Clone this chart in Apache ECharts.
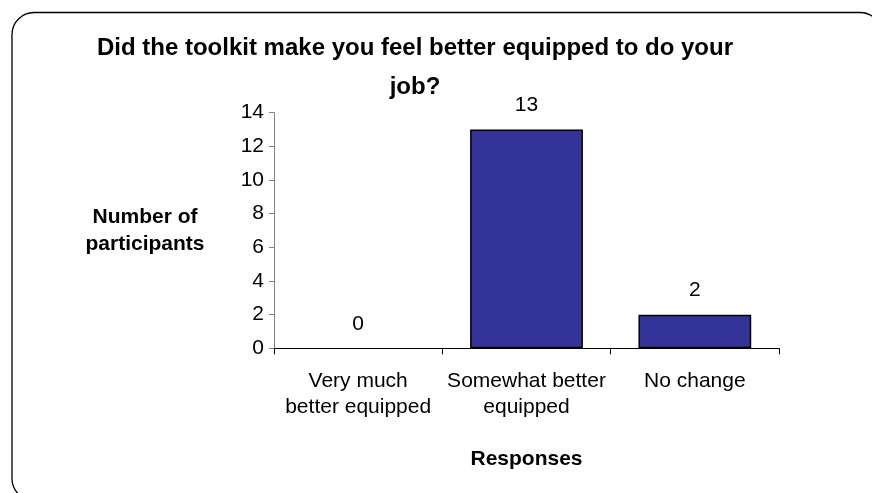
<!DOCTYPE html>
<html>
<head>
<meta charset="utf-8">
<script src="https://cdn.jsdelivr.net/npm/echarts@6/dist/echarts.min.js"></script>
<style>
  html, body { margin: 0; padding: 0; background: #fff; }
  #chart { width: 872px; height: 493px; }
</style>
</head>
<body>
<div id="chart"></div>
<script>
// Survey responses: feeling better equipped after using the toolkit
const categories = ['Very much\nbetter equipped', 'Somewhat better\nequipped', 'No change'];
const participants = [0, 13, 2];
const yTicks = { min: 0, max: 14, interval: 2 };

const FONT = '"Liberation Sans", Arial, sans-serif';

const chart = echarts.init(document.getElementById('chart'), null, { renderer: 'canvas' });

// A zero-height bar has no visible outline
const barData = participants.map(v =>
  v === 0 ? { value: v, itemStyle: { borderWidth: 0 } } : v
);

chart.setOption({
  backgroundColor: '#ffffff',
  animation: false,
  textStyle: { fontFamily: FONT },
  title: {
    text: 'Did the toolkit make you feel better equipped to do your\njob?',
    left: 415,
    textAlign: 'center',
    top: 28.5,
    padding: 0,
    textStyle: {
      fontFamily: FONT,
      fontSize: 24,
      fontWeight: 'bold',
      color: '#000',
      lineHeight: 39
    }
  },
  graphic: [{
    type: 'rect',
    silent: true,
    shape: { x: 12, y: 12.5, width: 870, height: 488, r: 22 },
    style: { fill: 'none', stroke: '#000', lineWidth: 1.3 }
  }],
  grid: {
    left: 274,
    right: 93,
    top: 112.7,
    bottom: 144.7,
    containLabel: false
  },
  xAxis: {
    type: 'category',
    data: categories,
    boundaryGap: true,
    name: 'Responses',
    nameLocation: 'middle',
    nameGap: 111,
    nameTextStyle: {
      fontFamily: FONT,
      fontSize: 21,
      fontWeight: 'bold',
      color: '#000',
      verticalAlign: 'middle'
    },
    axisLine: { show: true, lineStyle: { color: '#000', width: 1 } },
    axisTick: { show: true, alignWithLabel: false, length: 6, lineStyle: { color: '#000', width: 1 } },
    axisLabel: {
      margin: 20,
      fontFamily: FONT,
      fontSize: 21,
      color: '#000',
      lineHeight: 26,
      interval: 0
    },
    splitLine: { show: false }
  },
  yAxis: {
    type: 'value',
    min: yTicks.min,
    max: yTicks.max,
    interval: yTicks.interval,
    name: 'Number of\nparticipants',
    nameLocation: 'middle',
    nameRotate: 0,
    nameGap: 129,
    nameTextStyle: {
      fontFamily: FONT,
      fontSize: 21,
      fontWeight: 'bold',
      color: '#000',
      align: 'center',
      verticalAlign: 'middle',
      lineHeight: 27
    },
    axisLine: { show: true, lineStyle: { color: '#808080', width: 1 } },
    axisTick: { show: true, length: 5, lineStyle: { color: '#808080', width: 1 } },
    axisLabel: {
      margin: 10,
      fontFamily: FONT,
      fontSize: 21,
      color: '#000'
    },
    splitLine: { show: false }
  },
  series: [{
    type: 'bar',
    data: barData,
    barWidth: '67%',
    itemStyle: {
      color: '#333399',
      borderColor: '#000',
      borderWidth: 1.5
    },
    label: {
      show: true,
      position: 'top',
      distance: 14,
      fontFamily: FONT,
      fontSize: 21,
      color: '#000'
    }
  }]
});
</script>
</body>
</html>
